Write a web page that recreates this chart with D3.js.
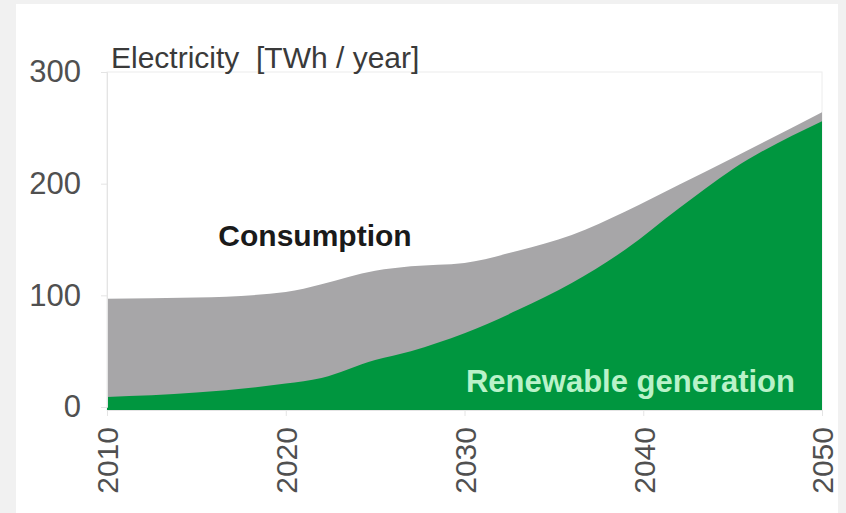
<!DOCTYPE html>
<html>
<head>
<meta charset="utf-8">
<script src="https://cdn.jsdelivr.net/npm/d3@7"></script>
<style>
  body { margin: 0; background: #f1f1f1; }
  svg { display: block; }
  text { font-family: "Liberation Sans", Arial, sans-serif; }
</style>
</head>
<body>
<svg id="chart"></svg>
<script>
// values (TWh / year)
const years = [2010, 2015, 2020, 2022, 2025, 2027, 2030, 2033, 2036, 2039, 2042, 2045, 2050];
const consumption = [97, 98, 103, 110, 122, 126, 129, 140, 154, 175, 199, 223, 264];
const renewable = [9, 13, 21, 26, 42, 50, 66, 87, 111, 141, 178, 213, 256];
const yTicks = [0, 100, 200, 300];
const xTicks = [2010, 2020, 2030, 2040, 2050];

const svgWidth = 846, svgHeight = 513;
const margin = { top: 72, right: 24, bottom: 103, left: 107 };
const width = svgWidth - margin.left - margin.right;
const height = svgHeight - margin.top - margin.bottom;

let svg = d3.select("#chart").attr("width", svgWidth).attr("height", svgHeight);

// white panel
svg.append("rect")
    .attr("x", 16).attr("y", 4)
    .attr("width", 822).attr("height", svgHeight - 4)
    .attr("fill", "white");

let g = svg.append("g").attr("transform", `translate(${margin.left},${margin.top})`);

const x = d3.scaleLinear().domain([2010, 2050]).range([0, width]);
const y = d3.scaleLinear().domain([0, 300]).range([height - 3, 0]);

const rows = years.map((yr, i) => ({ year: yr, cons: consumption[i], ren: renewable[i] }));

// faint frame
g.append("rect")
    .attr("width", width).attr("height", height)
    .attr("fill", "none")
    .attr("stroke", "#ececec");

const consArea = d3.area()
    .x(d => x(d.year))
    .y0(y(0) + 3)
    .y1(d => y(d.cons))
    .curve(d3.curveMonotoneX);

const renArea = d3.area()
    .x(d => x(d.year))
    .y0(y(0) + 3)
    .y1(d => y(d.ren))
    .curve(d3.curveMonotoneX);

g.append("path").datum(rows).attr("d", consArea).attr("fill", "#a7a6a8");
g.append("path").datum(rows).attr("d", renArea).attr("fill", "#00963f");

// axes
let yAxis = g.append("g")
    .call(d3.axisLeft(y).tickValues(yTicks).tickSize(6).tickPadding(20));
yAxis.select(".domain").attr("stroke", "#e4e4e4");
yAxis.selectAll(".tick line").attr("stroke", "#e4e4e4");
yAxis.selectAll("text")
    .style("font-size", "31px")
    .attr("fill", "#505050");

let xAxis = g.append("g")
    .attr("transform", `translate(0,${height})`)
    .call(d3.axisBottom(x).tickValues(xTicks).tickFormat(d3.format("d")).tickSize(6));
xAxis.select(".domain").attr("stroke", "#e4e4e4");
xAxis.selectAll(".tick line").attr("stroke", "#e4e4e4");
xAxis.selectAll("text")
    .style("font-size", "30px")
    .attr("fill", "#505050")
    .attr("text-anchor", "end")
    .attr("transform", "rotate(-90)")
    .attr("x", -17)
    .attr("y", 0)
    .attr("dy", "0.36em");

// titles and labels
svg.append("text")
    .attr("x", 111).attr("y", 68)
    .attr("xml:space", "preserve")
    .style("white-space", "pre")
    .style("font-size", "30px")
    .attr("fill", "#3a3a3a")
    .text("Electricity  [TWh / year]");

g.append("text")
    .attr("x", 315 - margin.left).attr("y", 246 - margin.top)
    .attr("text-anchor", "middle")
    .style("font-size", "30px")
    .style("font-weight", "bold")
    .attr("fill", "#1a1a1a")
    .text("Consumption");

g.append("text")
    .attr("x", 795 - margin.left).attr("y", 392 - margin.top)
    .attr("text-anchor", "end")
    .style("font-size", "31px")
    .style("font-weight", "bold")
    .attr("fill", "#b9f2c9")
    .text("Renewable generation");
</script>
</body>
</html>
